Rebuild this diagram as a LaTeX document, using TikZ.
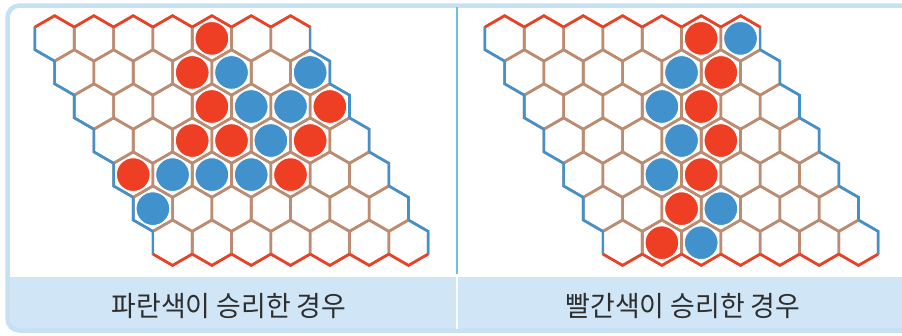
\documentclass[tikz,border=0pt]{standalone}
\usepackage{fontspec}
\newfontfamily\krfont{Noto Sans CJK KR}
\definecolor{hred}{HTML}{EE3F24}
\definecolor{hblue}{HTML}{4192CC}
\definecolor{hbrown}{HTML}{BC8B70}
\definecolor{framecol}{HTML}{C6E1F4}
\definecolor{bandcol}{HTML}{D0E6F6}
\definecolor{dividercol}{HTML}{6DBFEC}
\definecolor{textcol}{HTML}{2E2E2E}
\tikzset{
  hexedge/.style={draw=hbrown, line width=2.6pt, line join=miter},
  redside/.style={draw=hred, line width=2.6pt, line join=miter},
  blueside/.style={draw=hblue, line width=2.6pt, line join=miter},
  stone/.style={circle, inner sep=0pt, minimum size=33.6pt, draw=white, line width=0.8pt},
  redstone/.style={stone, fill=hred},
  bluestone/.style={stone, fill=hblue},
  caption/.style={font=\krfont\fontsize{28}{32}\selectfont, text=textcol, xscale=0.96, inner sep=0pt}
}
\newcommand\hexboard[1]{%
  \foreach \r in {0,...,6}{\foreach \c in {0,...,6}{%
    \pgfmathsetmacro\cx{#1+54.6+\c*39.32+\r*19.66}%
    \pgfmathsetmacro\cy{38.4+\r*34.05}%
    \draw[hexedge] (\cx,\cy-22.7) -- ++(19.66,11.35) -- ++(0,22.7) -- ++(-19.66,11.35) -- ++(-19.66,-11.35) -- ++(0,-22.7) -- cycle;
  }}%
  \foreach \c in {0,...,6}{%
    \pgfmathsetmacro\cx{#1+54.6+\c*39.32}%
    \draw[redside] (\cx-19.66,38.4-11.35) -- (\cx,38.4-22.7) -- (\cx+19.66,38.4-11.35);
    \pgfmathsetmacro\bx{#1+54.6+\c*39.32+6*19.66}%
    \pgfmathsetmacro\by{38.4+6*34.05}%
    \draw[redside] (\bx-19.66,\by+11.35) -- (\bx,\by+22.7) -- (\bx+19.66,\by+11.35);
  }%
  \foreach \r in {0,...,5}{%
    \pgfmathsetmacro\lx{#1+54.6+\r*19.66}%
    \pgfmathsetmacro\ly{38.4+\r*34.05}%
    \draw[blueside] (\lx-19.66,\ly-11.35) -- (\lx-19.66,\ly+11.35) -- (\lx,\ly+22.7);
  }%
  \pgfmathsetmacro\lx{#1+54.6+6*19.66}%
  \pgfmathsetmacro\ly{38.4+6*34.05}%
  \draw[blueside] (\lx-19.66,\ly-11.35) -- (\lx-19.66,\ly+11.35);
  \pgfmathsetmacro\rx{#1+54.6+6*39.32}%
  \draw[blueside] (\rx+19.66,38.4-11.35) -- (\rx+19.66,38.4+11.35);
  \foreach \r in {1,...,6}{%
    \pgfmathsetmacro\rx{#1+54.6+6*39.32+\r*19.66}%
    \pgfmathsetmacro\ry{38.4+\r*34.05}%
    \draw[blueside] (\rx,\ry-22.7) -- (\rx+19.66,\ry-11.35) -- (\rx+19.66,\ry+11.35);
  }%
}
\newcommand\putstone[5]{% name, xoffset, row, col, style
  \pgfmathsetmacro\sx{#2+54.6+#4*39.32+#3*19.66}%
  \pgfmathsetmacro\sy{38.4+#3*34.05}%
  \node[#5] (#1) at (\sx,\sy) {};
}
\begin{document}
\begin{tikzpicture}[x=1pt,y=-1pt]
\useasboundingbox (0,0) rectangle (902,335);
\fill[white] (0,0) rectangle (902,335);
\begin{scope}
  \clip[rounded corners=12pt] (7.5,5.5) rectangle (915,330.5);
  \fill[bandcol] (0,277) rectangle (920,340);
\end{scope}
\draw[framecol, line width=4.5pt, rounded corners=12pt] (7.5,5.5) rectangle (915,330.5);
\draw[dividercol, line width=2pt] (456.5,7) -- (456.5,274);
\draw[white, line width=2pt] (456.5,277) -- (456.5,329);
% left board: blue wins
\hexboard{0}
\putstone{l00}{0}{0}{4}{redstone}
\putstone{l13}{0}{1}{3}{redstone}
\putstone{l14}{0}{1}{4}{bluestone}
\putstone{l16}{0}{1}{6}{bluestone}
\putstone{l23}{0}{2}{3}{redstone}
\putstone{l24}{0}{2}{4}{bluestone}
\putstone{l25}{0}{2}{5}{bluestone}
\putstone{l26}{0}{2}{6}{redstone}
\putstone{l32}{0}{3}{2}{redstone}
\putstone{l33}{0}{3}{3}{redstone}
\putstone{l34}{0}{3}{4}{bluestone}
\putstone{l35}{0}{3}{5}{redstone}
\putstone{l40}{0}{4}{0}{redstone}
\putstone{l41}{0}{4}{1}{bluestone}
\putstone{l42}{0}{4}{2}{bluestone}
\putstone{l43}{0}{4}{3}{bluestone}
\putstone{l44}{0}{4}{4}{redstone}
\putstone{l50}{0}{5}{0}{bluestone}
% right board: red wins
\hexboard{450}
\putstone{r05}{450}{0}{5}{redstone}
\putstone{r06}{450}{0}{6}{bluestone}
\putstone{r14}{450}{1}{4}{bluestone}
\putstone{r15}{450}{1}{5}{redstone}
\putstone{r23}{450}{2}{3}{bluestone}
\putstone{r24}{450}{2}{4}{redstone}
\putstone{r33}{450}{3}{3}{bluestone}
\putstone{r34}{450}{3}{4}{redstone}
\putstone{r42}{450}{4}{2}{bluestone}
\putstone{r43}{450}{4}{3}{redstone}
\putstone{r52}{450}{5}{2}{redstone}
\putstone{r53}{450}{5}{3}{bluestone}
\putstone{r61}{450}{6}{1}{redstone}
\putstone{r62}{450}{6}{2}{bluestone}
\node[caption] (capL) at (229,306) {파란색이 승리한 경우};
\node[caption] (capR) at (683,306) {빨간색이 승리한 경우};
\end{tikzpicture}
\end{document}
